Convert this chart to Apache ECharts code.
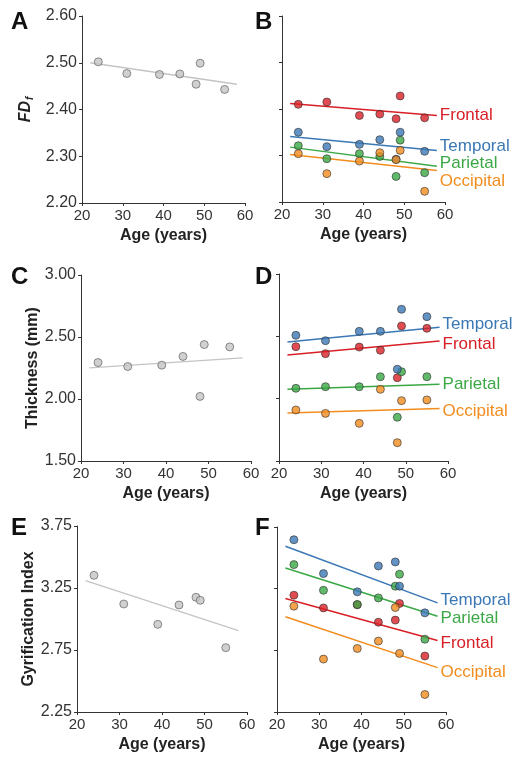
<!DOCTYPE html>
<html lang="en">
<head>
  <meta charset="UTF-8">
  <title>Age effects</title>
  <style>
    html, body { margin: 0; padding: 0; background: #fff; }
    #main { width: 513px; height: 761px; }
  </style>
  <script src="https://cdn.jsdelivr.net/npm/echarts@6/dist/echarts.min.js"></script>
</head>
<body>
  <div id="main"></div>
  <script>
    // 受试者年龄
    var ages = [24, 31, 39, 44, 48, 49, 55];
    // 回归线两端
    var fitAges = [22, 58];

    // A: FDf 全脑
    var fdWhole = [2.502, 2.477, 2.475, 2.476, 2.454, 2.499, 2.443];
    var fdWholeFit = [2.500, 2.454];
    // B: FDf 各脑叶
    var fdFrontal = [2.410, 2.415, 2.386, 2.389, 2.379, 2.428, 2.381];
    var fdFrontalFit = [2.412, 2.386];
    var fdTemporal = [2.350, 2.319, 2.324, 2.334, 2.292, 2.350, 2.309];
    var fdTemporalFit = [2.341, 2.311];
    var fdParietal = [2.321, 2.293, 2.304, 2.298, 2.255, 2.333, 2.263];
    var fdParietalFit = [2.318, 2.277];
    var fdOccipital = [2.304, 2.261, 2.288, 2.306, 2.291, 2.311, 2.223];
    var fdOccipitalFit = [2.302, 2.268];

    // C: 皮层厚度 全脑
    var thWhole = [2.294, 2.262, 2.273, 2.343, 2.021, 2.439, 2.420];
    var thWholeFit = [2.251, 2.332];
    // D: 皮层厚度 各脑叶
    var thTemporal = [2.508, 2.465, 2.540, 2.540, 2.236, 2.717, 2.658];
    var thTemporalFit = [2.455, 2.572];
    var thFrontal = [2.417, 2.361, 2.414, 2.388, 2.168, 2.583, 2.564];
    var thFrontalFit = [2.350, 2.463];
    var thParietal = [2.083, 2.096, 2.096, 2.176, 1.851, 2.216, 2.176];
    var thParietalFit = [2.075, 2.115];
    var thOccipital = [1.909, 1.882, 1.802, 2.075, 1.647, 1.984, 1.990];
    var thOccipitalFit = [1.885, 1.922];

    // E: 脑回指数 全脑
    var giWhole = [3.352, 3.121, 2.957, 3.113, 3.175, 3.151, 2.769];
    var giWholeFit = [3.309, 2.906];
    // F: 脑回指数 各脑叶
    var giTemporal = [3.647, 3.372, 3.224, 3.434, 3.467, 3.270, 3.054];
    var giTemporalFit = [3.594, 3.135];
    var giParietal = [3.445, 3.237, 3.121, 3.175, 3.270, 3.367, 2.840];
    var giParietalFit = [3.418, 3.027];
    var giFrontal = [3.197, 3.094, 3.120, 2.978, 2.995, 3.130, 2.704];
    var giFrontalFit = [3.170, 2.830];
    var giOccipital = [3.108, 2.679, 2.765, 2.825, 3.097, 2.725, 2.392];
    var giOccipitalFit = [3.022, 2.610];

    // 刻度
    var xTicks = [20, 30, 40, 50, 60];
    var fdTicks = [2.20, 2.30, 2.40, 2.50, 2.60];
    var thTicks = [1.50, 2.00, 2.50, 3.00];
    var giTicks = [2.25, 2.75, 3.25, 3.75];

    var FONT = 'Arial, "Liberation Sans", Helvetica, sans-serif';
    var colors = {
      Frontal: '#d81f26',
      Temporal: '#3b78b5',
      Parietal: '#3aa845',
      Occipital: '#f28c1e'
    };

    var grids = [
      { left: 82, top: 16, width: 163, height: 187 },   // A
      { left: 282, top: 16, width: 163, height: 186 },  // B
      { left: 81, top: 275, width: 170, height: 186 },  // C
      { left: 279, top: 274, width: 169, height: 187 }, // D
      { left: 77, top: 526, width: 170, height: 186 },  // E
      { left: 277, top: 527, width: 169, height: 185 }  // F
    ];

    function makeX(i) {
      return {
        gridIndex: i, type: 'value',
        min: xTicks[0], max: xTicks[xTicks.length - 1], interval: 10,
        axisLine: { lineStyle: { color: '#333', width: 1 } },
        axisTick: { length: 3, lineStyle: { color: '#333' } },
        axisLabel: { fontSize: 15, color: '#333', fontFamily: FONT, margin: 5 },
        splitLine: { show: false },
        name: 'Age (years)', nameLocation: 'middle', nameGap: 25,
        nameTextStyle: { fontSize: 16, fontWeight: 'bold', color: '#222', fontFamily: FONT }
      };
    }

    function makeY(i, ticks, name, nameGap, showLabels, rich) {
      var ax = {
        gridIndex: i, type: 'value',
        min: ticks[0], max: ticks[ticks.length - 1],
        axisLine: { show: true, lineStyle: { color: '#333', width: 1 } },
        axisTick: { show: true, length: 3, lineStyle: { color: '#333' }, customValues: ticks },
        axisLabel: {
          show: showLabels, fontSize: 16, color: '#333', fontFamily: FONT, margin: 5,
          customValues: ticks,
          formatter: function (v) { return v.toFixed(2); }
        },
        splitLine: { show: false }
      };
      if (name) {
        ax.name = name;
        ax.nameLocation = 'middle';
        ax.nameGap = nameGap;
        ax.nameTextStyle = { fontSize: 16, fontWeight: 'bold', color: '#222', fontFamily: FONT };
        if (rich) ax.nameTextStyle.rich = rich;
      }
      return ax;
    }

    var series = [];

    function addWhole(i, vals, fit) {
      series.push({
        type: 'line', xAxisIndex: i, yAxisIndex: i, z: 2,
        data: fitAges.map(function (a, k) { return [a, fit[k]]; }),
        showSymbol: false, silent: true,
        lineStyle: { color: '#c4c4c4', width: 1.3 }
      });
      series.push({
        type: 'scatter', xAxisIndex: i, yAxisIndex: i, z: 3,
        data: ages.map(function (a, k) { return [a, vals[k]]; }),
        symbolSize: 8,
        itemStyle: { color: '#c4c4c4', borderColor: '#555', borderWidth: 0.8 }
      });
    }

    function addLobe(i, name, vals, fit, dy) {
      var c = colors[name];
      series.push({
        name: name, type: 'line', xAxisIndex: i, yAxisIndex: i, z: 2,
        data: fitAges.map(function (a, k) { return [a, fit[k]]; }),
        showSymbol: false, silent: true,
        lineStyle: { color: c, width: 1.5 },
        endLabel: {
          show: true, formatter: name, color: c, fontSize: 17, fontFamily: FONT,
          distance: 3, offset: [0, dy]
        }
      });
      series.push({
        name: name + '-pts', type: 'scatter', xAxisIndex: i, yAxisIndex: i, z: 3,
        data: ages.map(function (a, k) { return [a, vals[k]]; }),
        symbolSize: 8,
        itemStyle: { color: c, borderColor: '#333', borderWidth: 0.8 }
      });
    }

    addWhole(0, fdWhole, fdWholeFit);
    addLobe(1, 'Frontal', fdFrontal, fdFrontalFit, 0);
    addLobe(1, 'Parietal', fdParietal, fdParietalFit, -3);
    addLobe(1, 'Temporal', fdTemporal, fdTemporalFit, -4);
    addLobe(1, 'Occipital', fdOccipital, fdOccipitalFit, 11);

    addWhole(2, thWhole, thWholeFit);
    addLobe(3, 'Frontal', thFrontal, thFrontalFit, 3);
    addLobe(3, 'Parietal', thParietal, thParietalFit, 0);
    addLobe(3, 'Temporal', thTemporal, thTemporalFit, -3);
    addLobe(3, 'Occipital', thOccipital, thOccipitalFit, 3);

    addWhole(4, giWhole, giWholeFit);
    addLobe(5, 'Frontal', giFrontal, giFrontalFit, 3);
    addLobe(5, 'Parietal', giParietal, giParietalFit, 2);
    addLobe(5, 'Temporal', giTemporal, giTemporalFit, -3);
    addLobe(5, 'Occipital', giOccipital, giOccipitalFit, 5);

    var letters = ['A', 'B', 'C', 'D', 'E', 'F'];
    var letterPos = [[11, 10], [255, 10], [11, 265], [255, 265], [11, 516], [255, 516]];

    var fdRich = {
      fd: { fontSize: 16, fontWeight: 'bold', fontStyle: 'italic', color: '#222', fontFamily: FONT },
      sub: { fontSize: 10, fontWeight: 'bold', fontStyle: 'italic', color: '#222', fontFamily: FONT, padding: [8, 0, 0, 1] }
    };

    var option = {
      animation: false,
      backgroundColor: '#fff',
      title: letters.map(function (t, k) {
        return {
          text: t, left: letterPos[k][0], top: letterPos[k][1], padding: 0,
          textStyle: { fontSize: 24, fontWeight: 900, color: '#111', fontFamily: FONT }
        };
      }),
      grid: grids,
      xAxis: [0, 1, 2, 3, 4, 5].map(makeX),
      yAxis: [
        makeY(0, fdTicks, '{fd|FD}{sub|f}', 47, true, fdRich),
        makeY(1, fdTicks, '', 0, false),
        makeY(2, thTicks, 'Thickness (mm)', 38, true),
        makeY(3, thTicks, '', 0, false),
        makeY(4, giTicks, 'Gyrification Index', 39, true),
        makeY(5, giTicks, '', 0, false)
      ],
      series: series
    };

    var chart = echarts.init(document.getElementById('main'));
    chart.setOption(option);
  </script>
</body>
</html>
